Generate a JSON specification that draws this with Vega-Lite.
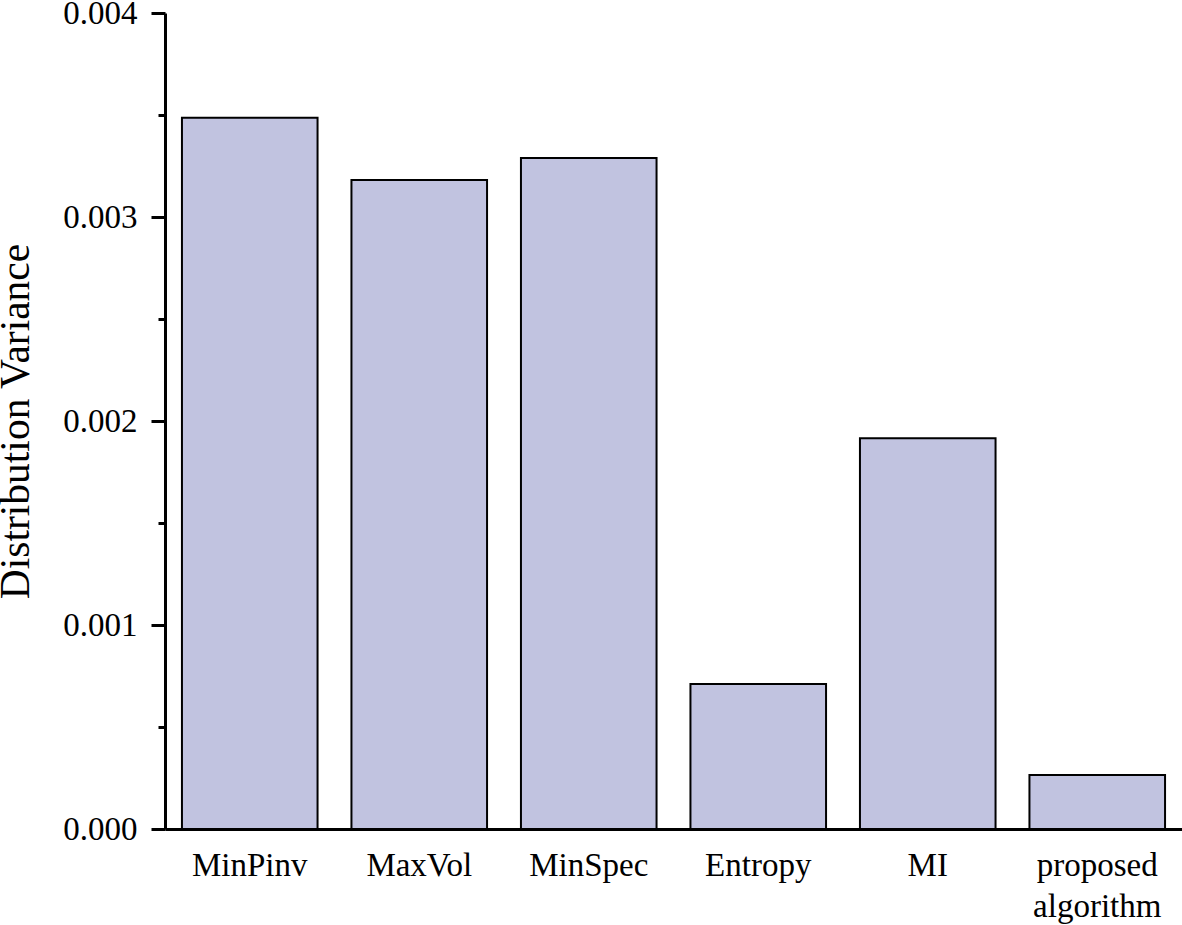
{
  "$schema": "https://vega.github.io/schema/vega-lite/v6.json",
  "width": 1017,
  "height": 816,
  "autosize": {"type": "none"},
  "padding": {"left": 165, "top": 13, "right": 0, "bottom": 96},
  "background": "white",
  "config": {
    "view": {"stroke": null},
    "axis": {
      "domainColor": "black",
      "domainWidth": 3,
      "tickColor": "black",
      "tickWidth": 3,
      "labelFont": "Liberation Serif",
      "labelFontSize": 33,
      "labelColor": "black",
      "titleFont": "Liberation Serif",
      "titleFontSize": 41.5,
      "titleFontWeight": "normal",
      "titleColor": "black",
      "grid": false
    }
  },
  "data": {
    "values": [
      {"method": "MinPinv", "variance": 0.003486},
      {"method": "MaxVol", "variance": 0.003181},
      {"method": "MinSpec", "variance": 0.003289},
      {"method": "Entropy", "variance": 0.000711},
      {"method": "MI", "variance": 0.001916},
      {"method": "proposed algorithm", "variance": 0.000265}
    ]
  },
  "mark": {"type": "bar", "fill": "#C1C3E0", "stroke": "black", "strokeWidth": 2},
  "encoding": {
    "x": {
      "field": "method",
      "type": "nominal",
      "sort": null,
      "scale": {"paddingInner": 0.2, "paddingOuter": 0.1},
      "axis": {
        "title": null,
        "ticks": false,
        "tickSize": 0,
        "labelAngle": 0,
        "labelPadding": 20,
        "labelLineHeight": 41,
        "labelExpr": "datum.label == 'proposed algorithm' ? ['proposed', 'algorithm'] : datum.label"
      }
    },
    "y": {
      "field": "variance",
      "type": "quantitative",
      "scale": {"domain": [0, 0.004], "nice": false},
      "axis": {
        "title": "Distribution Variance",
        "titlePadding": 25,
        "values": [0, 0.0005, 0.001, 0.0015, 0.002, 0.0025, 0.003, 0.0035, 0.004],
        "labelFlush": false,
        "labelPadding": 14,
        "labelExpr": "abs(datum.value * 1000 - round(datum.value * 1000)) < 0.000001 ? format(datum.value, '.3f') : ''",
        "tickSize": {
          "condition": {"test": "abs(datum.value * 1000 - round(datum.value * 1000)) < 0.000001", "value": 14},
          "value": 7
        }
      }
    }
  }
}
